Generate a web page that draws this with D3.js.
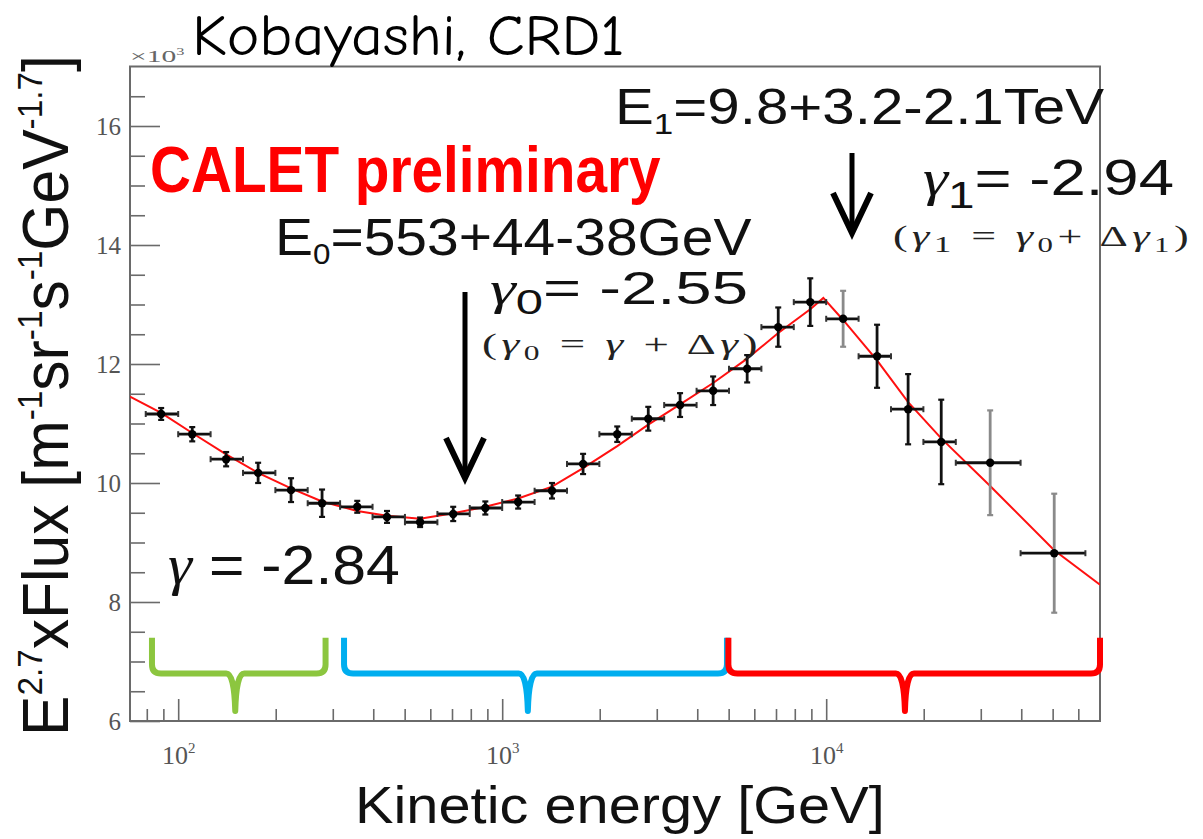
<!DOCTYPE html>
<html><head><meta charset="utf-8">
<script src="https://cdn.jsdelivr.net/npm/d3@7"></script>
<style>html,body{margin:0;padding:0;background:#fff;} svg{display:block;}</style>
</head><body>
<svg id="chart" width="1203" height="839"></svg>
<script>
// ---------------- data ----------------
const energy = [88.6, 110.5, 140.6, 176.5, 223, 278, 357, 441, 558, 706, 887, 1120, 1425, 1777, 2265, 2824, 3540, 4478, 5703, 7112, 8929, 11279, 14355, 17900, 22650, 32070, 50560];
const eLow  = [79.4, 100, 125.9, 158.5, 199.5, 251, 316, 398, 501, 631, 794, 1000, 1259, 1585, 1995, 2512, 3162, 3981, 5012, 6310, 7943, 10000, 12589, 15849, 19953, 25119, 39811];
const eHigh = [100, 125.9, 158.5, 199.5, 251, 316, 398, 501, 631, 794, 1000, 1259, 1585, 1995, 2512, 3162, 3981, 5012, 6310, 7943, 10000, 12589, 15849, 19953, 25119, 39811, 63096];
const flux    = [11.16, 10.82, 10.40, 10.17, 9.88, 9.66, 9.60, 9.43, 9.34, 9.48, 9.58, 9.68, 9.87, 10.32, 10.82, 11.08, 11.31, 11.55, 11.92, 12.62, 13.04, 12.76, 12.13, 11.24, 10.69, 10.34, 8.82];
const fluxErr = [0.10, 0.12, 0.12, 0.17, 0.20, 0.23, 0.10, 0.10, 0.08, 0.12, 0.11, 0.11, 0.13, 0.17, 0.13, 0.20, 0.20, 0.24, 0.23, 0.33, 0.40, 0.47, 0.53, 0.59, 0.71, 0.88, 1.00];

const fitEnergy = [71, 88.6, 110.5, 140.6, 176.5, 223, 278, 357, 441, 558, 706, 887, 1120, 1425, 1777, 2265, 2824, 3540, 4478, 5703, 7112, 8929, 9800, 11279, 14355, 17900, 22650, 32070, 50560, 70000];
const fitFlux   = [11.45, 11.18, 10.84, 10.48, 10.17, 9.91, 9.69, 9.53, 9.45, 9.40, 9.49, 9.60, 9.74, 9.94, 10.25, 10.62, 10.98, 11.32, 11.68, 12.09, 12.52, 12.92, 13.11, 12.74, 12.06, 11.36, 10.75, 9.95, 8.87, 8.29];

const yMajorTicks = [6, 8, 10, 12, 14, 16];
const yMinorTicks = [6.5, 7, 7.5, 8.5, 9, 9.5, 10.5, 11, 11.5, 12.5, 13, 13.5, 14.5, 15, 15.5, 16.5];
const xMajorTicks = [100, 1000, 10000];
const xTickExponents = ["2", "3", "4"];
const xMinorTicks = [80, 90, 200, 300, 400, 500, 600, 700, 800, 900, 2000, 3000, 4000, 5000, 6000, 7000, 8000, 9000, 20000, 30000, 40000, 50000, 60000];

// energy ranges of the three braces: [from, to, spike]
const braceFrom  = [83, 325, 4990];
const braceTo    = [285, 4940, 70000];
const braceSpike = [150, 1200, 17500];
const braceColors = ["#8cc63f", "#00aeef", "#ff0000"];

// ---------------- layout ----------------
const SANS = "'Liberation Sans', Arial, sans-serif";
const SERIF = "'Liberation Serif', 'Times New Roman', serif";
const COMIC = "'Comic Sans MS', 'Comic Neue', 'Open Sans', sans-serif";

const svg = d3.select("#chart");
const L = 130, R = 1100, T = 66.5, B = 721;
const x = d3.scaleLog().domain([71, 70000]).range([L, R]);
const y = d3.scaleLinear().domain([6, 17]).range([B, T]);

svg.append("defs").append("clipPath").attr("id", "plotclip")
  .append("rect").attr("x", L).attr("y", T).attr("width", R - L).attr("height", B - T);

function styleAxis(g) {
  g.select(".domain").remove();
  g.selectAll(".tick line").attr("stroke", "#6a6a6a").attr("stroke-width", 1.6);
  g.selectAll(".tick text").attr("fill", "#555").attr("font-family", SERIF);
}
const yMinor = svg.append("g").attr("transform", `translate(${L},0)`)
  .call(d3.axisLeft(y).tickValues(yMinorTicks).tickSize(-15).tickFormat(() => ""));
styleAxis(yMinor);
const yMajor = svg.append("g").attr("transform", `translate(${L},0)`)
  .call(d3.axisLeft(y).tickValues(yMajorTicks).tickSize(-30).tickPadding(9).tickFormat(d3.format("d")));
styleAxis(yMajor);
yMajor.attr("font-size", 25);
yMajor.selectAll(".tick text").attr("font-size", 25);

const xMinor = svg.append("g").attr("transform", `translate(0,${B})`)
  .call(d3.axisBottom(x).tickValues(xMinorTicks).tickSize(-12).tickFormat(() => ""));
styleAxis(xMinor);
const xMajor = svg.append("g").attr("transform", `translate(0,${B})`)
  .call(d3.axisBottom(x).tickValues(xMajorTicks).tickSize(-22).tickPadding(25).tickFormat(() => ""));
styleAxis(xMajor);
xMajor.attr("font-size", 26);
xMajor.selectAll(".tick text").attr("font-size", 26).each(function(d, i) {
  const t = d3.select(this);
  t.append("tspan").text("10");
  t.append("tspan").text(xTickExponents[i]).attr("font-size", 15).attr("dy", -11);
});

// frame
svg.append("rect").attr("x", L).attr("y", T).attr("width", R - L).attr("height", B - T)
  .attr("fill", "none").attr("stroke", "#6a6a6a").attr("stroke-width", 2);

// braces
const yTop = y(7.4), yMid = y(6.8), yBot = y(6.17);
braceFrom.forEach((f, i) => {
  const x1 = x(f), x2 = x(braceTo[i]), xm = x(braceSpike[i]);
  const r = 9, s = 9;
  const p = `M${x1},${yTop} L${x1},${yMid - r} Q${x1},${yMid} ${x1 + r},${yMid} ` +
            `L${xm - s},${yMid} Q${xm - 1},${yMid} ${xm},${yBot} Q${xm + 1},${yMid} ${xm + s},${yMid} ` +
            `L${x2 - r},${yMid} Q${x2},${yMid} ${x2},${yMid - r} L${x2},${yTop}`;
  svg.append("path").attr("d", p).attr("fill", "none").attr("stroke", braceColors[i])
    .attr("stroke-width", 6).attr("stroke-linejoin", "round");
});

// fit curve
const plot = svg.append("g").attr("clip-path", "url(#plotclip)");
const fitPts = fitEnergy.map((e, i) => [e, fitFlux[i]]);
plot.append("path").datum(fitPts)
  .attr("d", d3.line().x(d => x(d[0])).y(d => y(d[1])))
  .attr("fill", "none").attr("stroke", "#ff1010").attr("stroke-width", 2);

// data points with error bars
const grayBars = new Set([21, 25, 26]);
const pts = energy.map((e, i) => ({ e, lo: eLow[i], hi: eHigh[i], f: flux[i], err: fluxErr[i], i }));
const pg = plot.selectAll("g.pt").data(pts).join("g").attr("class", "pt");
pg.append("line").attr("x1", d => x(d.lo)).attr("x2", d => x(d.hi))
  .attr("y1", d => y(d.f)).attr("y2", d => y(d.f)).attr("stroke", "#111").attr("stroke-width", 2.8);
pg.append("line").attr("x1", d => x(d.e)).attr("x2", d => x(d.e))
  .attr("y1", d => y(d.f - d.err)).attr("y2", d => y(d.f + d.err))
  .attr("stroke", d => grayBars.has(d.i) ? "#8a8a8a" : "#111").attr("stroke-width", 2.8);
[-1, 1].forEach(sg => {
  pg.append("line").attr("x1", d => x(d.e) - 3).attr("x2", d => x(d.e) + 3)
    .attr("y1", d => y(d.f + sg * d.err)).attr("y2", d => y(d.f + sg * d.err))
    .attr("stroke", d => grayBars.has(d.i) ? "#8a8a8a" : "#111").attr("stroke-width", 2.2);
  pg.append("line").attr("x1", d => x(sg < 0 ? d.lo : d.hi)).attr("x2", d => x(sg < 0 ? d.lo : d.hi))
    .attr("y1", d => y(d.f) - 3).attr("y2", d => y(d.f) + 3)
    .attr("stroke", "#333").attr("stroke-width", 2);
});
pg.append("circle").attr("cx", d => x(d.e)).attr("cy", d => y(d.f)).attr("r", 4.2).attr("fill", "#000");

// ---------------- texts ----------------
function label(cfg) {
  const t = svg.append("text").attr("font-family", cfg.family || SANS)
    .attr("font-size", cfg.size).attr("font-weight", cfg.weight || "normal")
    .attr("fill", cfg.fill || "#000");
  if (cfg.spacing) t.attr("letter-spacing", cfg.spacing);
  let shift = 0;
  cfg.parts.forEach(p => {
    const [str, kind, sc, sh] = Array.isArray(p) ? p : [p, "n"];
    const ts = t.append("tspan").text(str);
    let target = 0;
    if (kind === "sub") { target = cfg.size * (sh || 0.28); ts.attr("font-size", cfg.size * (sc || 0.6)); }
    if (kind === "sup") { target = -cfg.size * (sh || 0.38); ts.attr("font-size", cfg.size * (sc || 0.6)); }
    if (kind === "g") { ts.attr("font-family", SERIF).attr("font-style", "italic"); }
    if (target !== shift) { ts.attr("dy", target - shift); shift = target; }
  });
  const bb = t.node().getBBox();
  const k = cfg.w / bb.width;
  const rot = cfg.rotate ? " rotate(-90)" : "";
  t.attr("transform", `translate(${cfg.x},${cfg.y})${rot} scale(${k},1) translate(${-bb.x},0)`);
  return t;
}

label({ x: 192, y: 55, w: 433, size: 58, family: COMIC, parts: ["Kobayashi, CRD1"] });
label({ x: 130, y: 62, w: 55, size: 17, family: SERIF, fill: "#666", parts: ["×10", ["3", "sup", 0.55, 0.4]] });
label({ x: 150, y: 192, w: 511, size: 64, weight: "bold", fill: "#ff0000", parts: ["CALET preliminary"] });

label({ x: 615, y: 124, w: 490, size: 50, fill: "#111", parts: ["E", ["1", "sub", 0.6, 0.2], "=9.8+3.2-2.1TeV"] });
label({ x: 923, y: 195, w: 251, size: 50, fill: "#111", parts: [["γ", "g"], ["1", "sub", 0.75, 0.25], "= -2.94"] });
label({ x: 893, y: 246, w: 300, size: 30, family: SERIF, fill: "#222", spacing: 3,
        parts: ["(", ["γ", "g"], ["1", "sub", 0.8, 0.2], " = ", ["γ", "g"], ["0", "sub", 0.7, 0.2], "+ Δ", ["γ", "g"], ["1", "sub", 0.7, 0.2], ")"] });

label({ x: 275, y: 255, w: 477, size: 52, fill: "#111", parts: ["E", ["0", "sub", 0.55, 0.18], "=553+44-38GeV"] });
label({ x: 490, y: 304, w: 258, size: 46, fill: "#111", parts: [["γ", "g"], ["0", "sub", 0.75, 0.22], "= -2.55"] });
label({ x: 482, y: 354, w: 280, size: 30, family: SERIF, fill: "#222", spacing: 3,
        parts: ["(", ["γ", "g"], ["0", "sub", 0.7, 0.2], " = ", ["γ", "g"], " + Δ", ["γ", "g"], ")"] });

label({ x: 168, y: 584, w: 232, size: 56, fill: "#111", parts: [["γ", "g"], " = -2.84"] });

label({ x: 355, y: 823, w: 530, size: 52, fill: "#111", parts: ["Kinetic energy [GeV]"] });
label({ x: 68, y: 736, w: 681, size: 64, fill: "#111", rotate: true,
        parts: ["E", ["2.7", "sup", 0.55, 0.4], "xFlux [m", ["-1", "sup", 0.55, 0.4], "sr", ["-1", "sup", 0.55, 0.4],
                "s", ["-1", "sup", 0.55, 0.4], "GeV", ["-1.7", "sup", 0.55, 0.4], "]"] });

// arrows
function arrow(ax, y0, y1) {
  svg.append("line").attr("x1", ax).attr("x2", ax).attr("y1", y0).attr("y2", y1 - 2)
    .attr("stroke", "#000").attr("stroke-width", 5);
  svg.append("path").attr("d", `M${ax - 19},${y1 - 40} L${ax},${y1} L${ax + 19},${y1 - 40}`)
    .attr("fill", "none").attr("stroke", "#000").attr("stroke-width", 6).attr("stroke-linejoin", "miter");
}
arrow(465, 292, 478);
arrow(852, 153, 233);
</script>
</body></html>
